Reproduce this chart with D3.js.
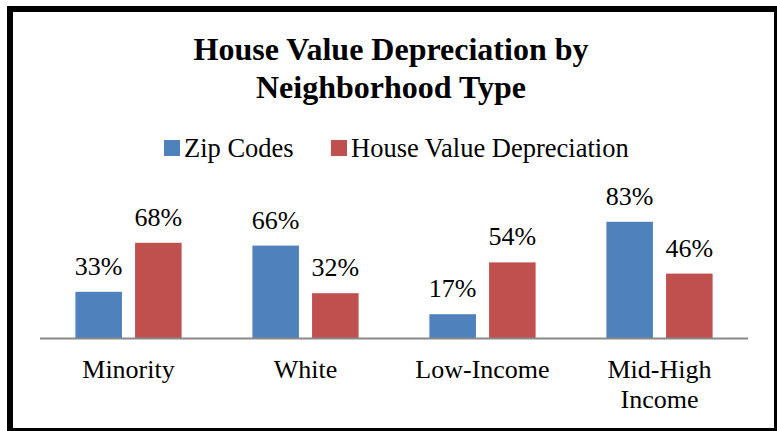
<!DOCTYPE html>
<html>
<head>
<meta charset="utf-8">
<script src="https://cdn.jsdelivr.net/npm/d3@7"></script>
<style>
  body { margin: 0; background: #fff; }
  text { font-family: "Liberation Serif", "Times New Roman", serif; fill: #000; }
</style>
</head>
<body>
<div id="chart"></div>
<script>
var categories = ["Minority", "White", "Low-Income", "Mid-High Income"];
var seriesNames = ["Zip Codes", "House Value Depreciation"];
var zipCodes = [33, 66, 17, 83];
var depreciation = [68, 32, 54, 46];
var colors = ["#4F81BD", "#C0504D"];

var width = 777, height = 431;

var svg = d3.select("#chart")
    .append("svg")
    .attr("width", width)
    .attr("height", height);

svg.append("rect")
    .attr("x", 0).attr("y", 0)
    .attr("width", width).attr("height", height)
    .attr("fill", "#fff");

// chart border (cut off on right/bottom like the original)
svg.append("rect")
    .attr("x", 10).attr("y", 9)
    .attr("width", 767).attr("height", 422)
    .attr("fill", "none")
    .attr("stroke", "#000")
    .attr("stroke-width", 6);

// title
var title = svg.append("text")
    .attr("text-anchor", "middle")
    .style("font-weight", "bold")
    .style("font-size", "32px");
title.append("tspan").attr("x", 391).attr("y", 60).text("House Value Depreciation by");
title.append("tspan").attr("x", 391).attr("y", 98).text("Neighborhood Type");

// legend
var legendX = [164, 331];
var legend = svg.selectAll(".legend")
    .data(seriesNames)
    .enter().append("g")
    .attr("class", "legend")
    .attr("transform", function(d, i) { return "translate(" + legendX[i] + ",140)"; });
legend.append("rect")
    .attr("width", 16).attr("height", 16)
    .attr("fill", function(d, i) { return colors[i]; });
legend.append("text")
    .attr("x", 20).attr("y", 16.5)
    .style("font-size", "26.5px")
    .text(function(d) { return d; });

// scales
var x0 = d3.scaleBand()
    .domain(categories)
    .range([40, 748]);

var x1 = d3.scaleBand()
    .domain([0, 1])
    .range([x0.bandwidth() * 0.2, x0.bandwidth() * 0.8])
    .paddingInner(0.22);

var y = d3.scaleLinear()
    .domain([0, 100])
    .range([338, 198]);

var data = categories.map(function(c, i) {
  return { cat: c, values: [zipCodes[i], depreciation[i]] };
});

var groups = svg.selectAll(".group")
    .data(data)
    .enter().append("g")
    .attr("class", "group")
    .attr("transform", function(d) { return "translate(" + x0(d.cat) + ",0)"; });

groups.selectAll("rect")
    .data(function(d) { return d.values; })
    .enter().append("rect")
    .attr("x", function(d, i) { return x1(i); })
    .attr("width", x1.bandwidth())
    .attr("y", function(d) { return y(d); })
    .attr("height", function(d) { return y(0) - y(d); })
    .attr("fill", function(d, i) { return colors[i]; });

groups.selectAll(".val")
    .data(function(d) { return d.values; })
    .enter().append("text")
    .attr("class", "val")
    .attr("text-anchor", "middle")
    .attr("x", function(d, i) { return x1(i) + x1.bandwidth() / 2; })
    .attr("y", function(d) { return y(d) - 17; })
    .style("font-size", "26px")
    .text(function(d) { return d + "%"; });

// axis baseline
svg.append("line")
    .attr("x1", 40).attr("x2", 748)
    .attr("y1", y(0) + 0.5).attr("y2", y(0) + 0.5)
    .attr("stroke", "#898989")
    .attr("stroke-width", 2);

// category labels, wrapped like the original
var catLines = {
  "Minority": ["Minority"],
  "White": ["White"],
  "Low-Income": ["Low-Income"],
  "Mid-High Income": ["Mid-High", "Income"]
};
var catText = svg.selectAll(".cat")
    .data(categories)
    .enter().append("text")
    .attr("class", "cat")
    .attr("text-anchor", "middle")
    .style("font-size", "26px");
catText.selectAll("tspan")
    .data(function(d) { return catLines[d].map(function(l) { return { cat: d, line: l }; }); })
    .enter().append("tspan")
    .attr("x", function(d) { return x0(d.cat) + x0.bandwidth() / 2; })
    .attr("y", function(d, i) { return 378 + i * 30; })
    .text(function(d) { return d.line; });
</script>
</body>
</html>
